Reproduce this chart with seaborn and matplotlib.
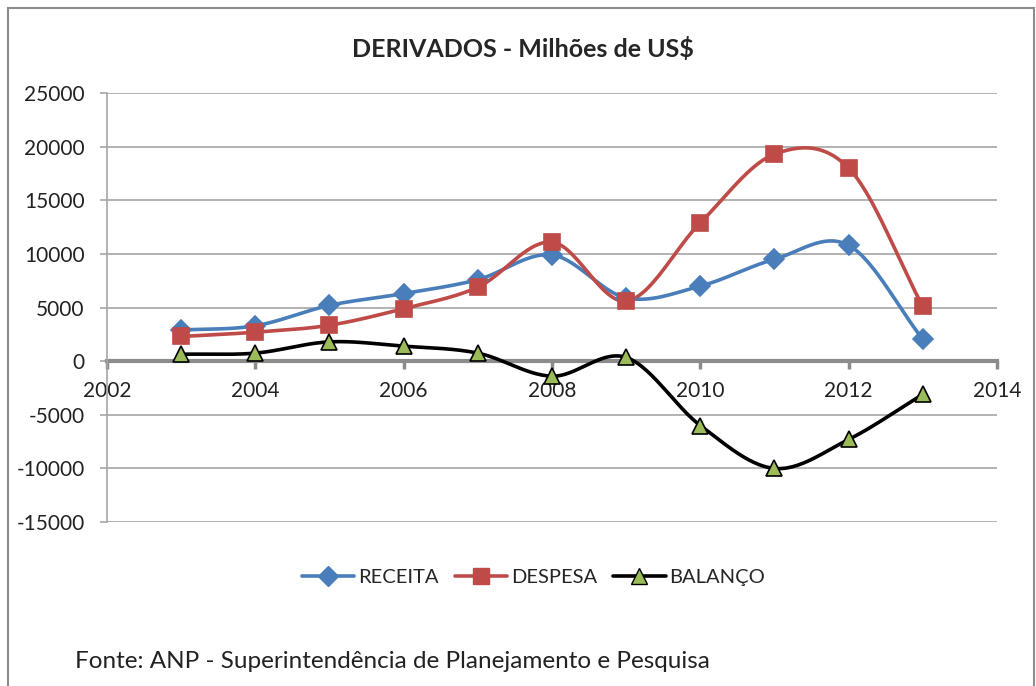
import numpy as np
import pandas as pd
import matplotlib
matplotlib.use("Agg")
import matplotlib.pyplot as plt
from matplotlib.lines import Line2D
from matplotlib.patches import Rectangle
import seaborn as sns

# values (millions of US$)
anos = [2003, 2004, 2005, 2006, 2007, 2008, 2009, 2010, 2011, 2012, 2013]
receita = [2900, 3300, 5200, 6300, 7600, 9900, 5900, 7000, 9500, 10800, 2050]
despesa = [2300, 2700, 3350, 4900, 6900, 11100, 5600, 12900, 19300, 18000, 5100]
balanco = [650, 750, 1800, 1400, 750, -1400, 350, -6000, -10000, -7300, -3100]

series_names = ["RECEITA", "DESPESA", "BALANÇO"]
x_ticks = [2002, 2004, 2006, 2008, 2010, 2012, 2014]
y_ticks = [-15000, -10000, -5000, 0, 5000, 10000, 15000, 20000, 25000]


def smooth(xs, ys, n=30):
    # Catmull-Rom spline through the points, like Excel's "smoothed line"
    xs = np.asarray(xs, float)
    ys = np.asarray(ys, float)
    px = np.concatenate([[2 * xs[0] - xs[1]], xs, [2 * xs[-1] - xs[-2]]])
    py = np.concatenate([[2 * ys[0] - ys[1]], ys, [2 * ys[-1] - ys[-2]]])
    outx, outy = [], []
    t = np.linspace(0, 1, n)
    for i in range(1, len(px) - 2):
        for arr, out in ((px, outx), (py, outy)):
            p0, p1, p2, p3 = arr[i - 1], arr[i], arr[i + 1], arr[i + 2]
            c1 = p1 + (p2 - p0) / 6
            c2 = p2 - (p3 - p1) / 6
            out.extend((1 - t) ** 3 * p1 + 3 * (1 - t) ** 2 * t * c1
                       + 3 * (1 - t) * t ** 2 * c2 + t ** 3 * p2)
    return np.array(outx), np.array(outy)


sns.set_style("white")
plt.rcParams['font.family'] = ['Lato', 'DejaVu Sans']

fig = plt.figure(figsize=(10.36, 6.86), dpi=100)
fig.patches.append(Rectangle((0.008, -0.01), 0.99, 0.998, transform=fig.transFigure,
                             fill=False, edgecolor='#8c8c8c', linewidth=1.5))
ax = fig.add_axes([0.1033, 0.239, 0.859, 0.6254])

styles = [
    ("#4A7EBB", "D", 10, "#4A7EBB", "#4A7EBB"),
    ("#BE4B48", "s", 12, "#BE4B48", "#BE4B48"),
    ("black", "^", 11.5, "#9BBB59", "black"),
]
data = [receita, despesa, balanco]

for vals, (lc, mk, ms, fc, ec) in zip(data, styles):
    sx, sy = smooth(anos, vals)
    sns.lineplot(x=sx, y=sy, sort=False, color=lc, linewidth=2.6, ax=ax)
for vals, (lc, mk, ms, fc, ec) in zip(data, styles):
    ax.plot(anos, vals, linestyle='none', marker=mk, markersize=ms,
            markerfacecolor=fc, markeredgecolor=ec, markeredgewidth=1.2, zorder=5)

ax.set_xlim(2002, 2014)
ax.set_ylim(-15000, 25000)
ax.set_xticks(x_ticks)
ax.set_yticks(y_ticks)
ax.set_yticklabels([str(v) for v in y_ticks])
ax.set_xticklabels([str(v) for v in x_ticks])
ax.yaxis.grid(True, color='#a6a6a6', linewidth=1.2)
ax.set_axisbelow(True)

for s in ['top', 'right']:
    ax.spines[s].set_visible(False)
ax.spines['left'].set_color('#a6a6a6')
ax.spines['left'].set_linewidth(1.2)
ax.spines['bottom'].set_position(('data', 0))
ax.spines['bottom'].set_color('#8c8c8c')
ax.spines['bottom'].set_linewidth(3)
ax.spines['bottom'].set_zorder(1)

ax.tick_params(axis='y', length=5, width=1.2, color='#a6a6a6', pad=11,
               labelsize=15, labelcolor='#222222', direction='out', left=True)
ax.tick_params(axis='x', length=6, width=2.5, color='#8c8c8c', pad=8,
               labelsize=15, labelcolor='#222222', direction='out', bottom=True)

fig.text(0.505, 0.929, "DERIVADOS - Milhões de US$", ha='center', va='center',
         fontsize=18, fontweight='bold')

handles = [Line2D([0], [0], color=lc, linewidth=2.6, marker=mk, markersize=ms,
                  markerfacecolor=fc, markeredgecolor=ec)
           for (lc, mk, ms, fc, ec) in styles]
fig.legend(handles, series_names, loc='center', bbox_to_anchor=(0.515, 0.158),
           ncol=3, frameon=False, fontsize=14.5, handlelength=2.6,
           handletextpad=0.2, columnspacing=0.8)

fig.text(0.072, 0.035, "Fonte: ANP - Superintendência de Planejamento e Pesquisa",
         ha='left', va='center', fontsize=17.5, color='#222222')

fig.savefig("out.png", dpi=100)
